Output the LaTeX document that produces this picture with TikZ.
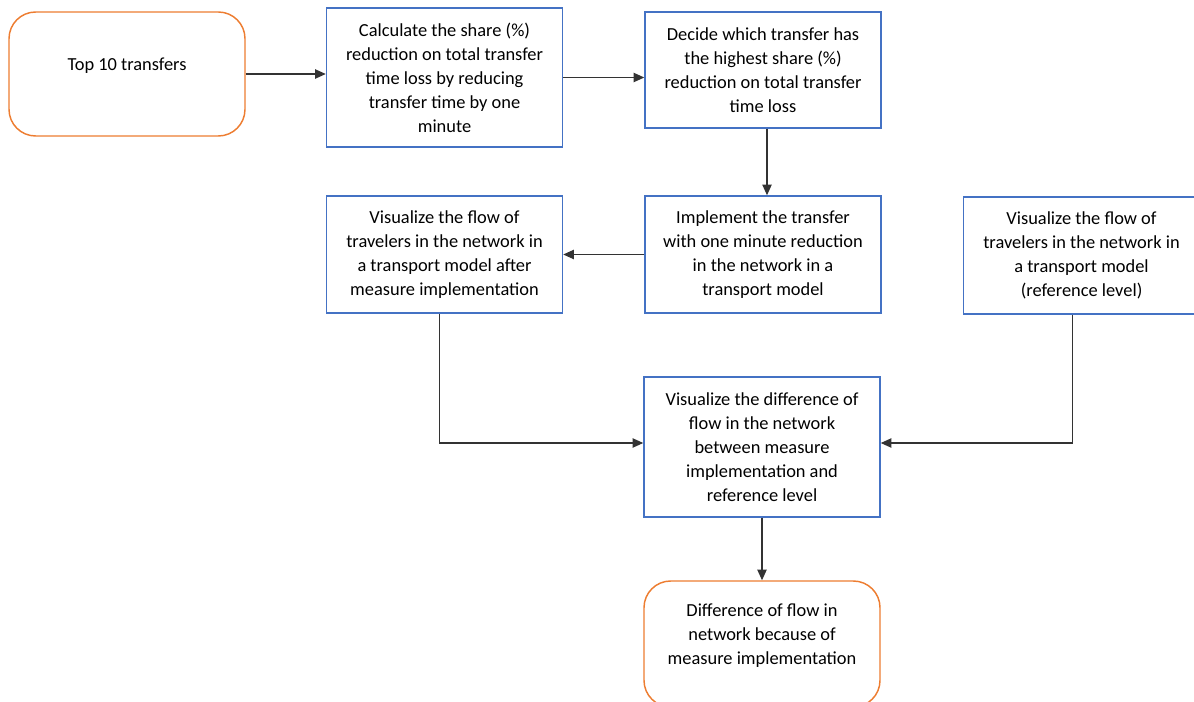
\documentclass[tikz,border=0pt]{standalone}
\usepackage{fontspec}
\setmainfont{Carlito}
\usepackage{tikz}
\usetikzlibrary{arrows.meta}
\definecolor{boxblue}{HTML}{4472C4}
\definecolor{boxorange}{HTML}{ED7D31}

\begin{document}
\begin{tikzpicture}[x=0.75pt,y=-0.75pt,>={Triangle[length=8pt,width=7pt]},
  every node/.style={font=\fontsize{13.8}{18}\selectfont,align=center},
  stepbox/.style={draw=boxblue,line width=1.1pt,minimum width=177pt},
  endbox/.style={draw=boxorange,line width=1.1pt,rounded corners=20pt,minimum width=177pt},
  flow/.style={->,draw=black!80,line width=0.9pt}]
  \useasboundingbox (0,0) rectangle (1194,702);
  % start and end (rounded, orange)
  \node[endbox,minimum height=93pt] (top) at (127,74) {};
  \node (toptext) at ([yshift=6pt]top.center) {Top 10 transfers};
  \node[endbox,minimum height=94.5pt] (result) at (762,644) {};
  \node (resulttext) at ([yshift=6pt]result.center)
    {Difference of flow in\\network because of\\measure implementation};
  % steps (blue boxes)
  \node[stepbox,minimum height=104.25pt] (share) at (444.5,77.5)
    {Calculate the share (\%)\\reduction on total transfer\\time loss by reducing\\transfer time by one\\minute};
  \node[stepbox,minimum height=87pt] (decide) at (763,70)
    {Decide which transfer has\\the highest share (\%)\\reduction on total transfer\\time loss};
  \node[stepbox,minimum height=87.75pt] (impl) at (763,254.5)
    {Implement the transfer\\with one minute reduction\\in the network in a\\transport model};
  \node[stepbox,minimum height=87.75pt] (visafter) at (444.5,254.5)
    {Visualize the flow of\\travelers in the network in\\a transport model after\\measure implementation};
  \node[stepbox,minimum height=87.75pt] (visref) at (1081.5,255.5)
    {Visualize the flow of\\travelers in the network in\\a transport model\\(reference level)};
  \node[stepbox,minimum height=105pt] (diff) at (762,447)
    {Visualize the difference of\\flow in the network\\between measure\\implementation and\\reference level};
  % connectors
  \draw[flow] (top.east) -- (top.east -| share.west);
  \draw[flow] (share.east) -- (share.east -| decide.west);
  \draw[flow] ([xshift=3pt]decide.south) -- ([xshift=3pt]impl.north);
  \draw[flow] (impl.west) -- (visafter.east);
  \draw[flow] ([xshift=-4pt]visafter.south) |- ([yshift=3pt]diff.west);
  \draw[flow] ([xshift=-7pt]visref.south) |- ([yshift=3pt]diff.east);
  \draw[flow] (diff.south) -- (result.north);
\end{tikzpicture}
\end{document}
